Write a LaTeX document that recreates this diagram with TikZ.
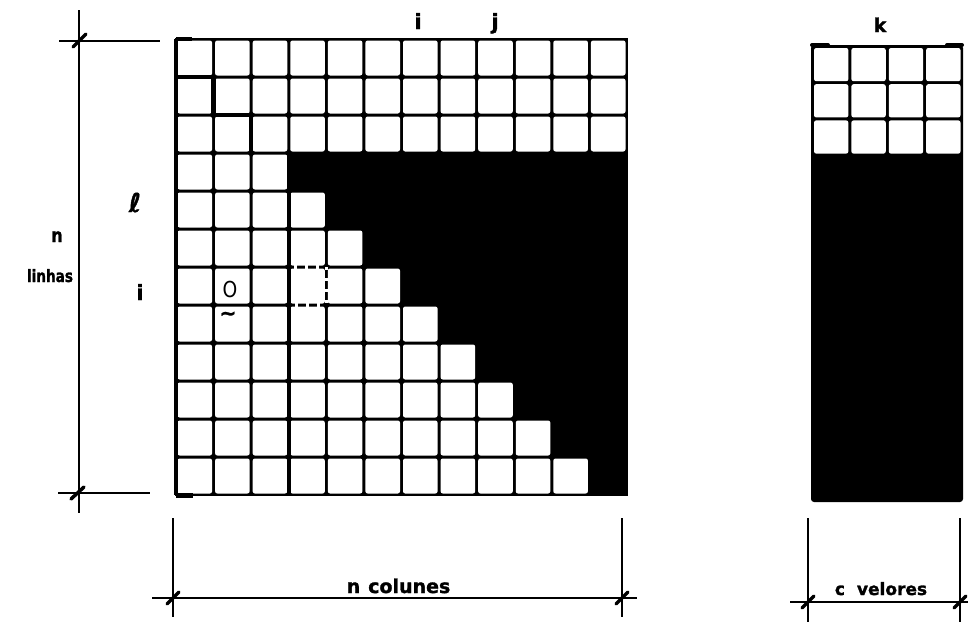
\documentclass[tikz,border=0pt]{standalone}
\usepackage{fontspec}
\setmainfont{DejaVu Sans}[BoldFeatures={FakeBold=1.5}]
\begin{document}
\begin{tikzpicture}[x=1pt,y=-1pt]
\tikzset{
  cell/.style={fill=white, rounded corners=2.2pt},
  dimline/.style={line width=1.3pt},
  tick/.style={line width=3.5pt, line cap=round},
  thk/.style={line width=4.5pt},
  lbl/.style={inner sep=0pt, anchor=base, font=\bfseries\fontsize{#1}{#1}\selectfont},
  lbl/.default=19
}
\path[use as bounding box] (0,0) rectangle (969,622);
\def\xa{176}\def\dx{37.583}\def\ya{39}\def\dy{38}
% main matrix
\fill (175,38) rectangle (628,496);
\foreach \r in {0,...,11}{
  \pgfmathtruncatemacro\nn{\r<3 ? 11 : \r-1}
  \foreach \c in {0,...,\nn}{
    \fill[cell] ({\xa+\c*\dx+1.5},{\ya+\r*\dy+1.5}) rectangle ({\xa+(\c+1)*\dx-1.5},{\ya+(\r+1)*\dy-1.5});
  }
}
% dashed cell
\draw[white, line width=3.4pt, dash pattern=on 3pt off 8pt, dash phase=-5pt]
  (288.75,267) -- (326.33,267) -- (326.33,305) -- (288.75,305);
% thick lines
\draw[line width=4.5pt] (176,39) -- (176,495);
\draw[line width=4pt] (176,77) -- (213.58,77);
\draw[thk] (213.58,77) -- (213.58,115) -- (251.17,115) -- (251.17,153);
\draw[thk] (288.75,153) -- (288.75,495);
\draw[line width=4pt] (176,39) -- (192,39);
\draw[line width=5pt] (176,495) -- (193,495);
% right matrix
\fill[rounded corners=3pt] (811,45) rectangle (963,502);
\foreach \r in {0,1,2}{
  \foreach \c in {0,...,3}{
    \fill[cell] ({812.5+\c*37.375+1.5},{46.5+\r*36.2+1.5}) rectangle ({812.5+(\c+1)*37.375-1.5},{46.5+(\r+1)*36.2-1.5});
  }
}
\draw[line width=4pt, line cap=round] (812,45) -- (828,45);
\draw[line width=4pt, line cap=round] (947,45) -- (962,45);
% left dimension
\draw[dimline] (79,10) -- (79,513);
\draw[dimline] (59,41) -- (160,41);
\draw[dimline] (58,493) -- (150,493);
\draw[tick] (73,47) -- (86,34);
\draw[tick] (71,499) -- (84,487);
% bottom dimension
\draw[dimline] (152,598) -- (637,598);
\draw[dimline] (173,518) -- (173,617);
\draw[dimline] (622,518) -- (622,617);
\draw[tick] (167,604) -- (179,592);
\draw[tick] (616,604) -- (628,592);
% right dimension
\draw[dimline] (790,602) -- (968,602);
\draw[dimline] (808,518) -- (808,622);
\draw[dimline] (960,518) -- (960,622);
\draw[tick] (802,608) -- (814,596);
\draw[tick] (954,608) -- (966,596);
% labels
\node[lbl=21] (ti) at (418,29) {i};
\node[lbl=21] (tj) at (495,29) {j};
\node[lbl=19] (tk) at (880,32) {k};
\node[lbl=19, xscale=0.85] (nl) at (57,242) {n};
\node[lbl=17, xscale=0.8] (linhas) at (50,282) {linhas};
\node[lbl=26] (ell) at (135,212) {ℓ};
\node[lbl=21] (li) at (140,300) {i};
\node[inner sep=0pt, anchor=base, xscale=0.85, font=\fontsize{22}{22}\selectfont] (zero) at (230,297) {O};
\node[inner sep=0pt, anchor=base, font=\bfseries\fontsize{20}{20}\selectfont] (tilde) at (228,320) {\textasciitilde};
\node[lbl=19] (ncol) at (398.5,593) {n\hspace{8pt}colunes};
\node[lbl=17] (cval) at (881,595) {c\hspace{12pt}velores};
\end{tikzpicture}
\end{document}
